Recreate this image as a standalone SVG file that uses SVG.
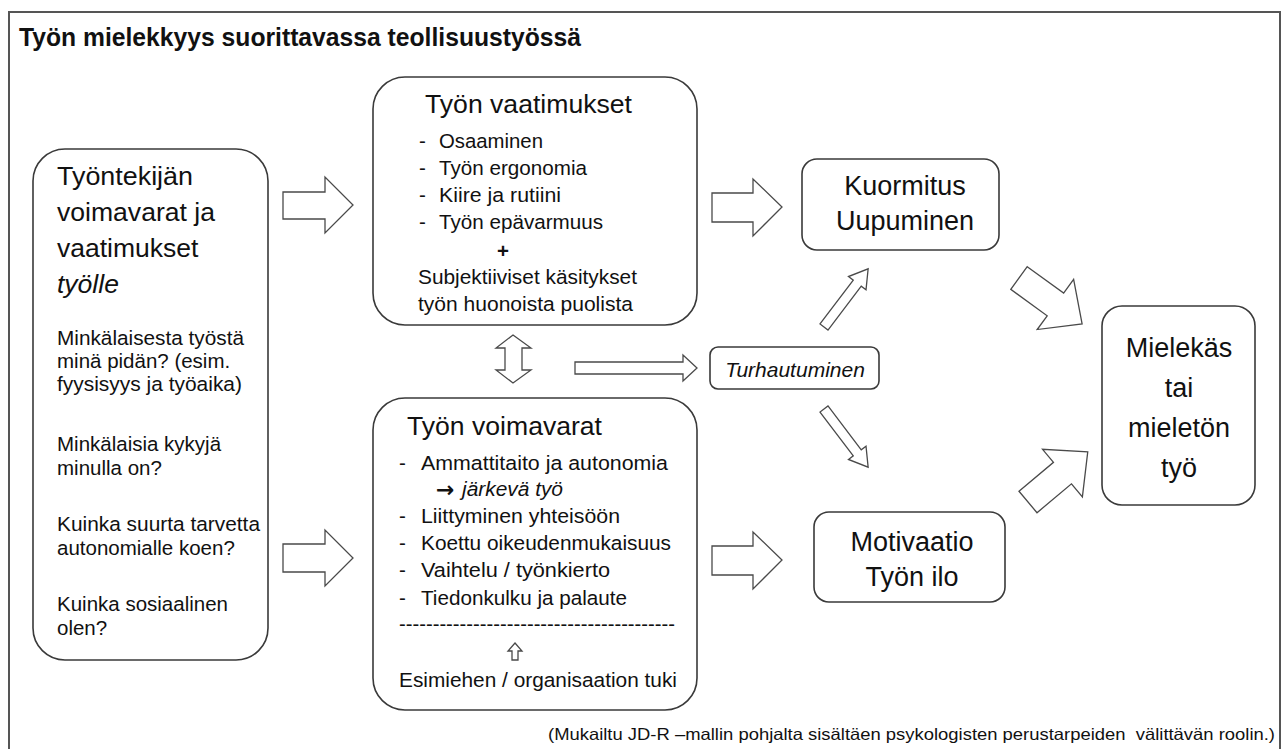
<svg xmlns="http://www.w3.org/2000/svg" width="1285" height="749" viewBox="0 0 1285 749">
<style>
text{font-family:"Liberation Sans",Arial,sans-serif;fill:#111;}
.box{fill:#fff;stroke:#3a3a3a;stroke-width:1.6;}
.arr{fill:#fff;stroke:#4a4a4a;stroke-width:1.3;stroke-linejoin:miter;}
.s{font-size:20.5px;}
.h{font-size:26.5px;}
.m{font-size:27px;}
.it{font-style:italic;}
.sym{font-family:"DejaVu Sans",sans-serif;font-weight:bold;font-size:22px;}
</style>
<rect width="1285" height="749" fill="#fff"/>
<rect x="9" y="12" width="1271" height="760" fill="none" stroke="#555" stroke-width="2"/>
<text x="19" y="46" font-size="25" font-weight="bold" textLength="562" lengthAdjust="spacingAndGlyphs">Työn mielekkyys suorittavassa teollisuustyössä</text>

<g id="node-left">
<rect class="box" x="33" y="149" width="235" height="511" rx="32"/>
<text class="h" x="57" y="185" textLength="136" lengthAdjust="spacingAndGlyphs">Työntekijän</text>
<text class="h" x="57" y="221" textLength="158" lengthAdjust="spacingAndGlyphs">voimavarat ja</text>
<text class="h" x="57" y="257">vaatimukset</text>
<text class="h it" x="57" y="293">työlle</text>
<text class="s" x="57" y="345" textLength="187" lengthAdjust="spacingAndGlyphs">Minkälaisesta työstä</text>
<text class="s" x="57" y="368">minä pidän? (esim.</text>
<text class="s" x="57" y="391" textLength="185" lengthAdjust="spacingAndGlyphs">fyysisyys ja työaika)</text>
<text class="s" x="57" y="451">Minkälaisia kykyjä</text>
<text class="s" x="57" y="475">minulla on?</text>
<text class="s" x="57" y="531" textLength="203" lengthAdjust="spacingAndGlyphs">Kuinka suurta tarvetta</text>
<text class="s" x="57" y="555">autonomialle koen?</text>
<text class="s" x="57" y="611">Kuinka sosiaalinen</text>
<text class="s" x="57" y="635">olen?</text>
</g>

<g id="node-vaatimukset">
<rect class="box" x="373" y="77" width="324" height="248" rx="32"/>
<text x="425" y="113" font-size="25" textLength="207" lengthAdjust="spacingAndGlyphs">Työn vaatimukset</text>
<text class="s" x="419" y="148">-</text><text class="s" x="439" y="148" textLength="104" lengthAdjust="spacingAndGlyphs">Osaaminen</text>
<text class="s" x="419" y="175">-</text><text class="s" x="439" y="175" textLength="148" lengthAdjust="spacingAndGlyphs">Työn ergonomia</text>
<text class="s" x="419" y="202">-</text><text class="s" x="439" y="202" textLength="122" lengthAdjust="spacingAndGlyphs">Kiire ja rutiini</text>
<text class="s" x="419" y="229">-</text><text class="s" x="439" y="229" textLength="164" lengthAdjust="spacingAndGlyphs">Työn epävarmuus</text>
<text class="s" x="503" y="258" font-weight="bold" text-anchor="middle">+</text>
<text class="s" x="418" y="284" textLength="219" lengthAdjust="spacingAndGlyphs">Subjektiiviset käsitykset</text>
<text class="s" x="418" y="311" textLength="215" lengthAdjust="spacingAndGlyphs">työn huonoista puolista</text>
</g>

<g id="node-voimavarat">
<rect class="box" x="373" y="398" width="324" height="312" rx="32"/>
<text x="407" y="435" font-size="26" textLength="195" lengthAdjust="spacingAndGlyphs">Työn voimavarat</text>
<text class="s" x="399" y="470">-</text><text class="s" x="421" y="470" textLength="247" lengthAdjust="spacingAndGlyphs">Ammattitaito ja autonomia</text>
<text class="sym" x="436" y="497">→</text><text class="s it" x="462" y="496" textLength="101" lengthAdjust="spacingAndGlyphs">järkevä työ</text>
<text class="s" x="399" y="523">-</text><text class="s" x="421" y="523" textLength="199" lengthAdjust="spacingAndGlyphs">Liittyminen yhteisöön</text>
<text class="s" x="399" y="550">-</text><text class="s" x="421" y="550" textLength="250" lengthAdjust="spacingAndGlyphs">Koettu oikeudenmukaisuus</text>
<text class="s" x="399" y="577">-</text><text class="s" x="421" y="577" textLength="189" lengthAdjust="spacingAndGlyphs">Vaihtelu / työnkierto</text>
<text class="s" x="399" y="605">-</text><text class="s" x="421" y="605" textLength="206" lengthAdjust="spacingAndGlyphs">Tiedonkulku ja palaute</text>
<text class="s" x="399" y="631" textLength="276" lengthAdjust="spacingAndGlyphs">-----------------------------------------</text>
<polygon class="arr" points="515,643 522,651 518,651 518,660 512,660 512,651 508,651"/>
<text class="s" x="399" y="687" textLength="278" lengthAdjust="spacingAndGlyphs">Esimiehen / organisaation tuki</text>
</g>

<g id="node-kuormitus">
<rect class="box" x="802" y="159" width="197" height="91" rx="15"/>
<text class="m" x="905" y="195" text-anchor="middle">Kuormitus</text>
<text class="m" x="905" y="230" text-anchor="middle">Uupuminen</text>
</g>

<g id="node-turhautuminen">
<rect class="box" x="710" y="347" width="169" height="42" rx="8"/>
<text x="795" y="377" font-size="21" font-style="italic" text-anchor="middle">Turhautuminen</text>
</g>

<g id="node-motivaatio">
<rect class="box" x="814" y="512" width="191" height="90" rx="15"/>
<text class="m" x="912" y="551" text-anchor="middle">Motivaatio</text>
<text class="m" x="912" y="586" text-anchor="middle">Työn ilo</text>
</g>

<g id="node-mielekas">
<rect class="box" x="1102" y="306" width="153" height="199" rx="20"/>
<text class="m" x="1179" y="357" text-anchor="middle">Mielekäs</text>
<text class="m" x="1179" y="397" text-anchor="middle">tai</text>
<text class="m" x="1179" y="437" text-anchor="middle">mieletön</text>
<text class="m" x="1179" y="477" text-anchor="middle">työ</text>
</g>

<g id="connectors">
<polygon class="arr" points="283,192 325,192 325,177 353,205 325,233 325,219 283,219"/>
<polygon class="arr" points="283,544 325,544 325,530 353,558 325,586 325,572 283,572"/>
<polygon class="arr" points="712,193 753,193 753,179 782,207 753,236 753,222 712,222"/>
<polygon class="arr" points="712,546 753,546 753,532 782,560 753,589 753,575 712,575"/>
<polygon class="arr" points="513,335 531,348 522,348 522,370 531,370 513,383 496,370 505,370 505,348 496,348"/>
<polygon class="arr" points="575,362 683,362 683,355 697,368 683,381 683,374 575,374"/>
<polygon class="arr" transform="translate(824,327) rotate(-52.8)" points="0,-5 55,-5 55,-11 73,0 55,11 55,5 0,5"/>
<polygon class="arr" transform="translate(824,409) rotate(52.8)" points="0,-5 55,-5 55,-11 73,0 55,11 55,5 0,5"/>
<polygon class="arr" transform="translate(1019,278) rotate(36)" points="0,-14 45,-14 45,-31 78,0 45,31 45,14 0,14"/>
<polygon class="arr" transform="translate(1028,502) rotate(-40)" points="0,-14 45,-14 45,-31 78,0 45,31 45,14 0,14"/>
</g>

<text x="548" y="740" font-size="16.5" textLength="727" lengthAdjust="spacingAndGlyphs" xml:space="preserve">(Mukailtu JD-R –mallin pohjalta sisältäen psykologisten perustarpeiden  välittävän roolin.)</text>
</svg>
